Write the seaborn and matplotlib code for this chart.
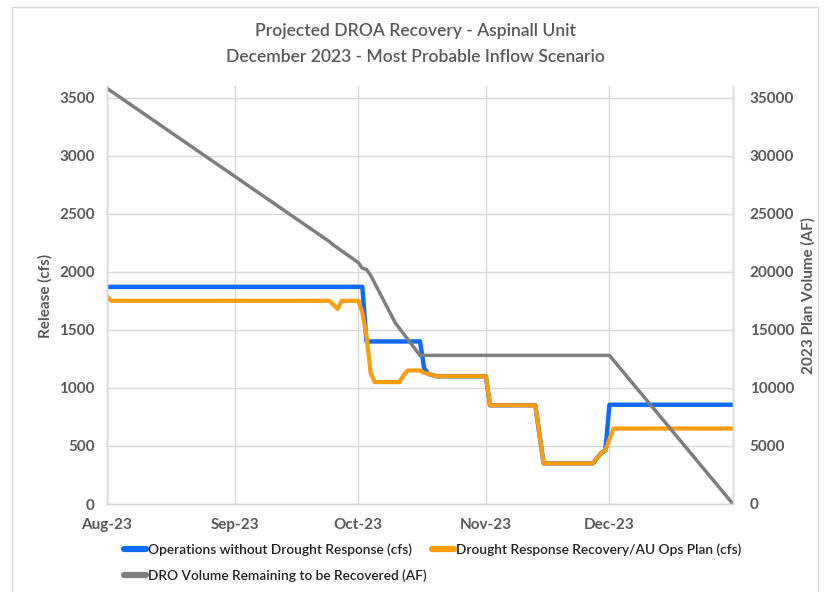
import numpy as np
import pandas as pd
import matplotlib
matplotlib.use("Agg")
import matplotlib.pyplot as plt
import matplotlib.dates as mdates
import seaborn as sns
from matplotlib.patches import Rectangle
from matplotlib.lines import Line2D

# ---------------- data ----------------
title_line1 = "Projected DROA Recovery - Aspinall Unit"
title_line2 = "December 2023 - Most Probable Inflow Scenario"
left_label = "Release (cfs)"
right_label = "2023 Plan Volume (AF)"
series_names = ["Operations without Drought Response (cfs)",
                "Drought Response Recovery/AU Ops Plan (cfs)",
                "DRO Volume Remaining to be Recovered (AF)"]

blue_dates = ["2023-08-01", "2023-10-02", "2023-10-03", "2023-10-16", "2023-10-17",
              "2023-10-18", "2023-10-20", "2023-11-01", "2023-11-02", "2023-11-13",
              "2023-11-15", "2023-11-27", "2023-11-29", "2023-11-30", "2023-12-01",
              "2023-12-31"]
blue_cfs = [1870, 1870, 1400, 1400, 1170, 1120, 1100, 1100, 850, 850,
            350, 350, 440, 460, 855, 855]

orange_dates = ["2023-08-01", "2023-08-02", "2023-09-24", "2023-09-26", "2023-09-27",
                "2023-10-01", "2023-10-02", "2023-10-03", "2023-10-04", "2023-10-05",
                "2023-10-11", "2023-10-12", "2023-10-13", "2023-10-16", "2023-10-17",
                "2023-10-18", "2023-10-20", "2023-11-01", "2023-11-02", "2023-11-13",
                "2023-11-15", "2023-11-27", "2023-11-29", "2023-11-30", "2023-12-01",
                "2023-12-02", "2023-12-31"]
orange_cfs = [1790, 1750, 1750, 1680, 1750,
              1750, 1650, 1450, 1130, 1050,
              1050, 1110, 1150, 1150, 1130,
              1120, 1100, 1100, 850, 850,
              350, 350, 440, 460, 560,
              650, 650]

gray_dates = ["2023-08-01", "2023-09-24", "2023-09-25", "2023-09-27", "2023-10-01",
              "2023-10-02", "2023-10-03", "2023-10-04", "2023-10-10", "2023-10-16",
              "2023-12-01", "2023-12-31"]
gray_af = [35800, 22600, 22300, 21800, 20800,
           20300, 20200, 19700, 15600, 12800,
           12800, 0]

month_ticks = ["2023-08-01", "2023-09-01", "2023-10-01", "2023-11-01", "2023-12-01"]
left_ticks = [0, 500, 1000, 1500, 2000, 2500, 3000, 3500]
right_ticks = [0, 5000, 10000, 15000, 20000, 25000, 30000, 35000]

# ---------------- style ----------------
sns.set_theme(style="white")
plt.rcParams['font.family'] = ['Lato', 'DejaVu Sans']

BLUE = "#0F6BFF"
ORANGE = "#FF9C0A"
GRAY = "#7F7F7F"
GRID = "#D9D9D9"
TXT = "#595959"

df_blue = pd.DataFrame({"date": pd.to_datetime(blue_dates), "val": blue_cfs})
df_orange = pd.DataFrame({"date": pd.to_datetime(orange_dates), "val": orange_cfs})
df_gray = pd.DataFrame({"date": pd.to_datetime(gray_dates), "val": gray_af})

W, H = 830, 592
fig = plt.figure(figsize=(W / 100, H / 100), dpi=100)
L, R, T, B = 107, 733, 86, 504
ax = fig.add_axes([L / W, 1 - B / H, (R - L) / W, (B - T) / H])
ax2 = ax.twinx()

sns.lineplot(data=df_blue, x="date", y="val", ax=ax, color=BLUE, lw=3.2, legend=False)
sns.lineplot(data=df_orange, x="date", y="val", ax=ax, color=ORANGE, lw=3.0, legend=False)
sns.lineplot(data=df_gray, x="date", y="val", ax=ax2, color=GRAY, lw=2.5, legend=False)

xmin, xmax = pd.Timestamp("2023-08-01"), pd.Timestamp("2023-12-31")
ax.set_xlim(xmin, xmax)
ax.set_ylim(0, 3600)
ax2.set_ylim(0, 36000)

ax.set_xticks(pd.to_datetime(month_ticks))
ax.xaxis.set_major_formatter(mdates.DateFormatter("%b-%y"))
ax.set_yticks(left_ticks)
ax2.set_yticks(right_ticks)

ax.grid(True, color=GRID, lw=1.0)
ax2.grid(False)
for a in (ax, ax2):
    a.spines["top"].set_visible(False)
    for s in ["left", "right", "bottom"]:
        a.spines[s].set_color(GRID)
        a.spines[s].set_linewidth(1.0)
    a.set_xlabel("")
    a.set_ylabel("")

ax.tick_params(axis="y", length=0, pad=9, labelsize=11, labelcolor=TXT)
ax.tick_params(axis="x", length=0, pad=10, labelsize=11, labelcolor=TXT)
ax2.tick_params(axis="y", length=0, pad=12, labelsize=11, labelcolor=TXT)
for lab in ax.get_xticklabels() + ax.get_yticklabels() + ax2.get_yticklabels():
    lab.set_fontweight("bold")

fig.text(45 / W, 1 - 296 / H, left_label, rotation=90, ha="center", va="center",
         fontsize=11, fontweight="bold", color=TXT)
fig.text(808 / W, 1 - 296 / H, right_label, rotation=90, ha="center", va="center",
         fontsize=11, fontweight="bold", color=TXT)

fig.text(0.5, 1 - 31 / H, title_line1, ha="center", va="center", fontsize=12.6,
         fontweight="semibold", color=TXT)
fig.text(0.5, 1 - 57 / H, title_line2, ha="center", va="center", fontsize=12.6,
         fontweight="semibold", color=TXT)

handles = [Line2D([], [], color=BLUE, lw=4.5),
           Line2D([], [], color=GRAY, lw=4.5),
           Line2D([], [], color=ORANGE, lw=4.5)]
labels = [series_names[0], series_names[2], series_names[1]]
fig.legend(handles, labels, ncol=2, loc="upper left",
           bbox_to_anchor=(118 / W, 1 - 538 / H), frameon=False,
           prop={"size": 9.9, "weight": "semibold"}, handlelength=1.6, handletextpad=0.15,
           columnspacing=0.4, labelspacing=0.95, borderaxespad=0,
           labelcolor="#222222")

fig.patches.append(Rectangle((12 / W, -0.01), (818 - 12) / W, 1 - 7 / H + 0.01,
                             transform=fig.transFigure, fill=False,
                             edgecolor=GRID, lw=1.0))

fig.savefig("out.png", dpi=100)
